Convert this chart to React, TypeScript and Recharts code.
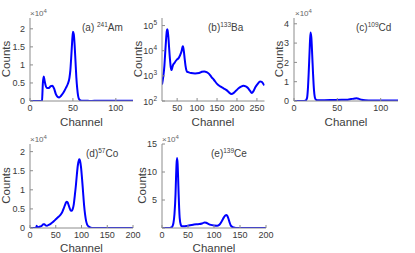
import { LineChart, Line, XAxis, YAxis } from 'recharts'

const BLUE = '#0000ff'
const AXIS = '#8c8c8c'
const TXT = '#3a3a3a'
const LABEL = '#404040'
const FONT = '"Liberation Sans", Arial, Helvetica, sans-serif'

// (a) 241Am, counts in units of 1e4
const amChannel = [0, 10, 13, 14, 15, 16, 17, 18, 20, 22, 24, 26, 28, 30, 32, 34, 36, 38, 40, 42, 44, 46, 47, 48, 49, 50, 51, 52, 53, 54, 55, 56, 57, 58, 60, 65, 70, 80, 90, 100, 110, 120]
const amCounts = [0, 0, 0, 0.02, 0.5, 0.68, 0.56, 0.45, 0.36, 0.36, 0.41, 0.42, 0.35, 0.2, 0.12, 0.1, 0.14, 0.2, 0.28, 0.37, 0.47, 0.65, 0.85, 1.2, 1.6, 1.92, 1.85, 1.55, 1.1, 0.65, 0.35, 0.15, 0.06, 0.03, 0.01, 0.01, 0, 0.01, 0.01, 0.01, 0.01, 0.01]

// (b) 133Ba, raw counts (log axis)
const baChannel = [12, 15, 18, 20, 22, 24, 25, 26, 28, 30, 32, 34, 36, 38, 40, 43, 46, 50, 54, 58, 61, 63, 64, 65, 67, 69, 71, 73, 75, 78, 85, 95, 105, 112, 118, 124, 130, 136, 142, 150, 158, 166, 174, 180, 186, 192, 198, 204, 210, 216, 222, 228, 233, 237, 241, 246, 252, 258, 262, 266, 269]
const baCounts = [450, 900, 2500, 8000, 25000, 60000, 72000, 65000, 35000, 12000, 4500, 2200, 1700, 2200, 2800, 3200, 3800, 4500, 5200, 7000, 9500, 13000, 15000, 14000, 9000, 4500, 2500, 1700, 1450, 1400, 1300, 1250, 1300, 1450, 1500, 1400, 1200, 900, 700, 480, 380, 320, 270, 220, 190, 210, 260, 320, 370, 400, 380, 320, 250, 210, 240, 350, 480, 600, 580, 480, 420]
const baTicks = [100, 1000, 10000, 100000]

// (c) 109Cd
const cdChannel = [0, 10, 13, 15, 16, 17, 18, 19, 20, 21, 22, 23, 24, 25, 26, 28, 35, 45, 55, 62, 66, 70, 72, 75, 78, 82, 90, 100, 110, 120]
const cdCounts = [0, 0, 0.01, 0.15, 0.6, 1.5, 2.6, 3.55, 3.3, 2.4, 1.4, 0.6, 0.2, 0.08, 0.05, 0.04, 0.04, 0.05, 0.06, 0.07, 0.1, 0.13, 0.14, 0.11, 0.06, 0.04, 0.03, 0.03, 0.03, 0.03]

// (d) 57Co
const coChannel = [0, 10, 12, 13, 14, 16, 18, 20, 23, 26, 28, 30, 33, 36, 40, 44, 48, 52, 56, 60, 63, 66, 69, 71, 73, 75, 77, 79, 81, 83, 85, 87, 89, 91, 93, 95, 96, 97, 99, 101, 103, 105, 107, 109, 111, 114, 118, 122, 140, 160, 180, 200]
const coCounts = [0, 0, 0.01, 0.06, 0.02, 0.02, 0.03, 0.04, 0.06, 0.1, 0.1, 0.07, 0.06, 0.08, 0.11, 0.15, 0.2, 0.25, 0.3, 0.36, 0.43, 0.53, 0.64, 0.69, 0.67, 0.6, 0.52, 0.46, 0.45, 0.5, 0.62, 0.85, 1.1, 1.4, 1.65, 1.78, 1.8, 1.77, 1.6, 1.3, 0.95, 0.6, 0.35, 0.18, 0.09, 0.04, 0.01, 0, 0, 0, 0, 0]

// (e) 139Ce
const ceChannel = [0, 10, 15, 18, 20, 22, 24, 26, 27, 28, 29, 30, 31, 32, 33, 34, 36, 38, 42, 48, 54, 60, 66, 72, 77, 82, 85, 89, 94, 100, 106, 110, 113, 116, 119, 122, 124, 126, 128, 130, 132, 135, 138, 142, 150, 200]
const ceCounts = [0, 0, 0.02, 0.1, 0.3, 0.9, 2.5, 6, 9, 11.5, 12.5, 11.5, 9, 6, 3.5, 1.8, 0.6, 0.3, 0.3, 0.38, 0.5, 0.6, 0.68, 0.7, 0.8, 1.0, 0.95, 0.75, 0.55, 0.45, 0.42, 0.55, 0.9, 1.4, 1.9, 2.25, 2.3, 2.1, 1.6, 1.0, 0.5, 0.2, 0.08, 0.02, 0, 0]

const toRows = (xs: number[], ys: number[]) => xs.map((x, i) => ({ x, y: ys[i] }))

const PAD_L = 40
const PAD_T = 12
const PAD_R = 14
const PAD_B = 30

type Box = { x: number; y: number; w: number; h: number }

const LogTick = (props: any) => {
  const { x, y, payload } = props
  const exp = Math.round(Math.log10(payload.value))
  return (
    <text x={x} y={y} dy={3.5} textAnchor="end" fontSize={9} fill={TXT} fontFamily={FONT}>
      10<tspan dy={-4} fontSize={6.5}>{exp}</tspan>
    </text>
  )
}

function Panel(props: {
  box: Box
  xs: number[]
  ys: number[]
  xDomain: [number, number]
  xTicks: number[]
  yDomain: [number, number]
  yTicks: number[]
  log?: boolean
  hideZero?: boolean
}) {
  const { box, xs, ys, xDomain, xTicks, yDomain, yTicks, log, hideZero } = props
  const tickFont = { fontSize: 9, fill: TXT, fontFamily: FONT }
  return (
    <div style={{ position: 'absolute', left: box.x - PAD_L, top: box.y - PAD_T }}>
      <LineChart
        width={box.w + PAD_L + PAD_R}
        height={box.h + PAD_T + PAD_B}
        data={toRows(xs, ys)}
        margin={{ top: PAD_T, right: PAD_R, left: 0, bottom: 0 }}
      >
        <XAxis xAxisId="b" dataKey="x" type="number" domain={xDomain} ticks={xTicks} allowDataOverflow
          height={PAD_B} stroke={AXIS} tickSize={-3} tickMargin={7} tick={tickFont} interval={0} />
        <XAxis xAxisId="t" orientation="top" dataKey="x" type="number" domain={xDomain} ticks={xTicks} allowDataOverflow
          height={0} stroke={AXIS} tickSize={-3} tick={false} interval={0} />
        <YAxis yAxisId="l" type="number" domain={yDomain} ticks={yTicks} allowDataOverflow width={PAD_L}
          scale={log ? 'log' : 'auto'} stroke={AXIS} tickSize={-3} tickMargin={8} interval={0}
          tick={log ? <LogTick /> : tickFont}
          tickFormatter={(v: number) => (hideZero && v === 0 ? '' : `${v}`)} />
        <YAxis yAxisId="r" orientation="right" type="number" domain={yDomain} ticks={yTicks} allowDataOverflow width={0}
          scale={log ? 'log' : 'auto'} stroke={AXIS} tickSize={-3} tick={false} interval={0} />
        <Line xAxisId="b" yAxisId="l" dataKey="y" type="monotone" stroke={BLUE} strokeWidth={2}
          dot={false} isAnimationActive={false} />
      </LineChart>
    </div>
  )
}

const boxA: Box = { x: 30, y: 17.5, w: 103, h: 83 }
const boxB: Box = { x: 162, y: 17.5, w: 102.5, h: 83 }
const boxC: Box = { x: 294, y: 17.5, w: 104, h: 83 }
const boxD: Box = { x: 30, y: 143.5, w: 103, h: 84 }
const boxE: Box = { x: 162, y: 143.5, w: 104, h: 84 }

const Iso = ({ x, y, lab, mass, el }: { x: number; y: number; lab: string; mass: string; el: string }) => (
  <text x={x} y={y} fontSize={10} fill={LABEL} fontFamily={FONT}>
    {lab}
    <tspan dy={-4} fontSize={6.5}>{mass}</tspan>
    <tspan dy={4}>{el}</tspan>
  </text>
)

const Exp = ({ x, y }: { x: number; y: number }) => (
  <text x={x} y={y} fontSize={8} fill="#666" fontFamily={FONT}>
    ×10<tspan dy={-3} fontSize={6}>4</tspan>
  </text>
)

const Counts = ({ x, y }: { x: number; y: number }) => (
  <text x={x} y={y} transform={`rotate(-90 ${x} ${y})`} textAnchor="middle" fontSize={11.5} fill={LABEL} fontFamily={FONT}>
    Counts
  </text>
)

const Channel = ({ x, y }: { x: number; y: number }) => (
  <text x={x} y={y} textAnchor="middle" fontSize={11.5} fill={LABEL} fontFamily={FONT}>
    Channel
  </text>
)

export default function App() {
  return (
    <div style={{ position: 'absolute', left: 0, top: 0, width: 415, height: 253, background: '#fff', overflow: 'hidden' }}>
      <Panel box={boxA} xs={amChannel} ys={amCounts} xDomain={[0, 120]} xTicks={[0, 50, 100]} yDomain={[0, 2.3]} yTicks={[0, 0.5, 1, 1.5, 2]} />
      <Panel box={boxB} xs={baChannel} ys={baCounts} xDomain={[12, 269]} xTicks={[50, 100, 150, 200, 250]} yDomain={[100, 200000]} yTicks={baTicks} log />
      <Panel box={boxC} xs={cdChannel} ys={cdCounts} xDomain={[0, 120]} xTicks={[0, 50, 100]} yDomain={[0, 4.3]} yTicks={[0, 1, 2, 3, 4]} />
      <Panel box={boxD} xs={coChannel} ys={coCounts} xDomain={[0, 200]} xTicks={[0, 50, 100, 150, 200]} yDomain={[0, 2.2]} yTicks={[0, 0.5, 1, 1.5, 2]} />
      <Panel box={boxE} xs={ceChannel} ys={ceCounts} xDomain={[0, 200]} xTicks={[0, 50, 100, 150, 200]} yDomain={[0, 15]} yTicks={[0, 5, 10, 15]} hideZero />
      <svg width={415} height={253} style={{ position: 'absolute', left: 0, top: 0, pointerEvents: 'none' }}>
        <Exp x={30} y={16} />
        <Exp x={295} y={16} />
        <Exp x={30} y={142} />
        <Exp x={162} y={142} />
        <Iso x={82} y={30.5} lab="(a) " mass="241" el="Am" />
        <Iso x={208} y={30.5} lab="(b)" mass="133" el="Ba" />
        <Iso x={356} y={30.5} lab="(c)" mass="109" el="Cd" />
        <Iso x={86} y={156.5} lab="(d)" mass="57" el="Co" />
        <Iso x={211} y={156.5} lab="(e)" mass="139" el="Ce" />
        <Counts x={10} y={59} />
        <Counts x={141.5} y={59} />
        <Counts x={283} y={59} />
        <Counts x={10} y={185.5} />
        <Counts x={145.5} y={185.5} />
        <Channel x={81.5} y={125.5} />
        <Channel x={213} y={125.5} />
        <Channel x={346} y={125.5} />
        <Channel x={81.5} y={251.5} />
        <Channel x={214} y={251.5} />
      </svg>
    </div>
  )
}
